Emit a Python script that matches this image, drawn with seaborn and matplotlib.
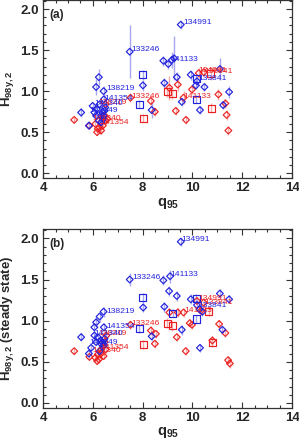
import matplotlib
matplotlib.use("Agg")
import matplotlib.pyplot as plt
import seaborn as sns
from matplotlib.ticker import MultipleLocator

# ---- panel (a): H98y,2 vs q95 ----
# blue diamonds
a_bd_q = [9.53, 7.48, 8.83, 9.03, 9.17, 9.26, 9.37, 8.87, 9.93, 10.18, 10.14, 10.48,
          11.10, 11.47, 11.23, 10.30, 9.57, 8.36, 8.01,
          6.24, 6.13, 6.43, 5.53, 5.84, 5.99, 6.06, 6.16, 6.27, 6.33, 6.40, 6.24,
          6.47, 6.44, 6.13, 6.33, 6.38, 6.42, 6.50]
a_bd_h = [1.81, 1.48, 1.37, 1.33, 1.38, 1.40, 1.17, 1.10, 1.20, 1.12, 1.07, 1.05,
          1.27, 0.99, 0.83, 0.77, 0.87, 0.77, 1.07,
          1.17, 1.05, 1.00, 0.74, 0.58, 0.82, 0.74, 0.78, 0.84, 0.70, 0.66, 0.64,
          0.76, 0.90, 0.70, 0.62, 0.74, 0.70, 0.80]
a_bd_e = [0.05, 0.32, 0.06, 0.06, 0.10, 0.27, 0.06, 0.06, 0.06, 0.06, 0.05, 0.05,
          0.13, 0.07, 0.05, 0.05, 0.05, 0.10, 0.07,
          0.10, 0.10, 0.06, 0.05, 0.04, 0.05, 0.05, 0.05, 0.05, 0.05, 0.05, 0.05,
          0.05, 0.05, 0.05, 0.05, 0.04, 0.04, 0.04]
# blue squares
a_bs_q = [7.86, 8.00, 10.15, 10.15]
a_bs_h = [0.84, 1.20, 0.90, 1.15]
a_bs_e = [0.05, 0.06, 0.05, 0.05]
# red diamonds
a_rd_q = [5.25, 5.86, 6.20, 6.27, 6.33, 6.40, 6.51, 6.47, 6.51, 6.17, 6.33, 6.10, 6.58,
          7.51, 8.33, 8.49, 9.07, 9.41, 9.64, 9.98, 10.25, 10.45, 11.04, 11.32, 11.37,
          11.44, 9.33, 9.74]
a_rd_h = [0.65, 0.58, 0.54, 0.56, 0.62, 0.58, 0.64, 0.70, 0.84, 0.50, 0.52, 0.60, 0.66,
          0.92, 0.88, 0.75, 1.04, 1.08, 0.92, 1.02, 1.22, 1.23, 0.96, 0.85, 0.71,
          0.52, 0.76, 0.65]
a_rd_e = [0.04, 0.04, 0.04, 0.04, 0.04, 0.04, 0.04, 0.05, 0.05, 0.04, 0.04, 0.04, 0.05,
          0.05, 0.06, 0.05, 0.15, 0.08, 0.08, 0.06, 0.06, 0.06, 0.07, 0.06, 0.06,
          0.05, 0.05, 0.05]
# red squares
a_rs_q = [8.99, 9.19, 8.02, 10.76, 10.74]
a_rs_h = [0.99, 0.97, 0.67, 0.79, 1.22]
a_rs_e = [0.06, 0.06, 0.05, 0.06, 0.08]
# shot labels
a_blab = ["134991", "133246", "141133", "133841", "138219", "141354", "141340", "141349"]
a_blab_q = [9.64, 7.55, 9.10, 10.22, 6.54, 6.47, 6.06, 5.86]
a_blab_h = [1.83, 1.51, 1.39, 1.15, 1.03, 0.91, 0.85, 0.76]
a_rlab = ["133841", "134991", "141133", "133246", "138219", "141340", "141354"]
a_rlab_q = [10.48, 10.23, 9.62, 7.55, 6.24, 5.97, 6.31]
a_rlab_h = [1.24, 1.25, 0.93, 0.94, 0.86, 0.67, 0.62]

# ---- panel (b): steady state ----
b_bd_q = [9.53, 7.48, 8.83, 9.10, 9.06, 9.37, 8.87, 9.93, 10.18, 10.28, 10.40, 11.10,
          11.47, 11.20, 10.30, 9.57, 8.36, 8.02,
          6.43, 6.27, 6.13, 6.06, 6.06, 5.53, 5.84, 5.93, 6.13, 6.20, 6.33, 6.40,
          6.31, 6.47, 6.44, 6.27, 6.38, 6.45]
b_bd_h = [1.96, 1.50, 1.49, 1.54, 1.36, 1.30, 1.17, 1.26, 1.19, 1.14, 1.11, 1.33,
          1.26, 0.89, 0.67, 0.89, 0.81, 1.16,
          1.11, 1.05, 0.98, 0.92, 0.82, 0.80, 0.60, 0.67, 0.74, 0.80, 0.72, 0.69,
          0.76, 0.78, 0.92, 0.63, 0.74, 0.70]
b_bd_e = [0.05, 0.08, 0.06, 0.08, 0.06, 0.06, 0.06, 0.06, 0.06, 0.05, 0.05, 0.06,
          0.05, 0.05, 0.05, 0.06, 0.06, 0.06,
          0.06, 0.06, 0.06, 0.05, 0.05, 0.05, 0.04, 0.04, 0.04, 0.04, 0.04, 0.04,
          0.04, 0.04, 0.05, 0.04, 0.04, 0.04]
b_bs_q = [7.86, 8.00, 9.21, 10.15, 10.15]
b_bs_h = [0.90, 1.28, 1.09, 1.02, 1.27]
b_bs_e = [0.05, 0.06, 0.05, 0.05, 0.05]
b_rd_q = [5.25, 5.86, 6.10, 6.20, 6.24, 6.33, 6.43, 6.33, 6.51, 6.47, 6.54, 6.17,
          7.51, 8.33, 8.53, 8.49, 9.37, 9.73, 9.07, 9.41, 9.64, 9.89, 9.98, 10.18,
          10.45, 10.34, 11.07, 11.32, 10.80, 11.43, 11.50]
b_rd_h = [0.63, 0.56, 0.55, 0.59, 0.53, 0.60, 0.57, 0.65, 0.65, 0.74, 0.82, 0.51,
          0.95, 0.88, 0.84, 0.72, 0.80, 0.63, 1.10, 1.10, 1.10, 0.97, 0.95, 1.24,
          1.22, 1.12, 0.96, 0.85, 0.76, 0.52, 0.48]
b_rd_e = [0.04, 0.04, 0.04, 0.04, 0.04, 0.04, 0.04, 0.04, 0.04, 0.05, 0.05, 0.04,
          0.05, 0.05, 0.05, 0.05, 0.05, 0.05, 0.05, 0.05, 0.05, 0.05, 0.05, 0.05,
          0.05, 0.05, 0.05, 0.05, 0.05, 0.05, 0.05]
b_rs_q = [8.99, 9.19, 8.02, 10.65, 10.80]
b_rs_h = [0.97, 0.94, 0.71, 1.11, 0.73]
b_rs_e = [0.06, 0.06, 0.06, 0.05, 0.05]
b_blab = ["134991", "133246", "141133", "133841", "138219", "141354", "141340", "141349"]
b_blab_q = [9.57, 7.59, 9.13, 10.25, 6.54, 6.54, 6.06, 5.86]
b_blab_h = [1.99, 1.53, 1.56, 1.18, 1.11, 0.93, 0.84, 0.74]
b_rlab = ["133841", "134991", "141133", "133246", "138219", "141340", "141354"]
b_rlab_q = [10.48, 10.22, 9.68, 7.55, 6.24, 5.97, 6.31]
b_rlab_h = [1.22, 1.27, 1.12, 0.97, 0.84, 0.64, 0.67]

BLUE, RED = "#2222dd", "#ec2222"
BLUE_E, RED_E = "#a8a8f0", "#f6aaaa"

sns.set_theme(style="ticks")
plt.rcParams["font.family"] = ["Liberation Sans", "DejaVu Sans"]
plt.rcParams["mathtext.fontset"] = "custom"
plt.rcParams["mathtext.rm"] = "Liberation Sans"
plt.rcParams["mathtext.bf"] = "Liberation Sans:bold"
plt.rcParams["mathtext.it"] = "Liberation Sans:italic"

fig = plt.figure(figsize=(2.99, 4.41), dpi=100)
ax_a = fig.add_axes([0.144, 0.596, 0.833, 0.404])
ax_b = fig.add_axes([0.144, 0.075, 0.833, 0.405])


def draw_panel(ax, groups, blab, red_lab, tag, ylabel):
    for q, h, e, col, ecol, mk, s in groups:
        ax.errorbar(q, h, yerr=e, fmt="none", ecolor=ecol, elinewidth=1.0,
                    capsize=0, zorder=1)
    for q, h, e, col, ecol, mk, s in groups:
        sns.scatterplot(x=q, y=h, ax=ax, marker=mk, s=s, facecolor="none",
                        edgecolor=col, linewidth=0.85, zorder=3 if col == BLUE else 2)
    for txt, q, h in zip(*red_lab):
        ax.text(q, h, txt, color=RED, fontsize=6.1, va="center", ha="left", zorder=4)
    for txt, q, h in zip(*blab):
        ax.text(q, h, txt, color=BLUE, fontsize=6.1, va="center", ha="left", zorder=5)

    ax.set_xlim(4, 14)
    ax.set_ylim(-0.06, 2.11)
    ax.xaxis.set_minor_locator(MultipleLocator(0.5))
    ax.yaxis.set_minor_locator(MultipleLocator(0.1))
    ax.set_xticks([4, 6, 8, 10, 12, 14])
    ax.set_xticklabels(["4", "6", "8", "10", "12", "14"])
    ax.set_yticks([0.0, 0.5, 1.0, 1.5, 2.0])
    ax.set_yticklabels(["0.0", "0.5", "1.0", "1.5", "2.0"])
    ax.tick_params(which="both", direction="in", top=True, right=True,
                   color="#333333", width=0.8)
    ax.tick_params(which="major", length=4, labelsize=9.5, pad=3)
    ax.tick_params(which="minor", length=2)
    for lab in ax.get_xticklabels() + ax.get_yticklabels():
        lab.set_fontweight("bold")
    for sp in ax.spines.values():
        sp.set_color("#333333")
        sp.set_linewidth(0.9)
    ax.set_xlabel(r"$\mathbf{q_{95}}$", fontsize=10.5, labelpad=1)
    ax.set_ylabel(ylabel, fontsize=9.5, fontweight="bold", labelpad=3)
    ax.text(0.025, 0.917, tag, transform=ax.transAxes, fontsize=8.5,
            fontweight="bold", va="center", ha="left")


groups_a = [
    (a_rd_q, a_rd_h, a_rd_e, RED, RED_E, "D", 12),
    (a_rs_q, a_rs_h, a_rs_e, RED, RED_E, "s", 26),
    (a_bd_q, a_bd_h, a_bd_e, BLUE, BLUE_E, "D", 12),
    (a_bs_q, a_bs_h, a_bs_e, BLUE, BLUE_E, "s", 26),
]
groups_b = [
    (b_rd_q, b_rd_h, b_rd_e, RED, RED_E, "D", 12),
    (b_rs_q, b_rs_h, b_rs_e, RED, RED_E, "s", 26),
    (b_bd_q, b_bd_h, b_bd_e, BLUE, BLUE_E, "D", 12),
    (b_bs_q, b_bs_h, b_bs_e, BLUE, BLUE_E, "s", 26),
]

draw_panel(ax_a, groups_a, (a_blab, a_blab_q, a_blab_h),
           (a_rlab, a_rlab_q, a_rlab_h), "(a)", r"$\mathbf{H_{98y,2}}$")
draw_panel(ax_b, groups_b, (b_blab, b_blab_q, b_blab_h),
           (b_rlab, b_rlab_q, b_rlab_h), "(b)",
           r"$\mathbf{H_{98y,2}}$ (steady state)")

fig.savefig("out.png", dpi=100)
